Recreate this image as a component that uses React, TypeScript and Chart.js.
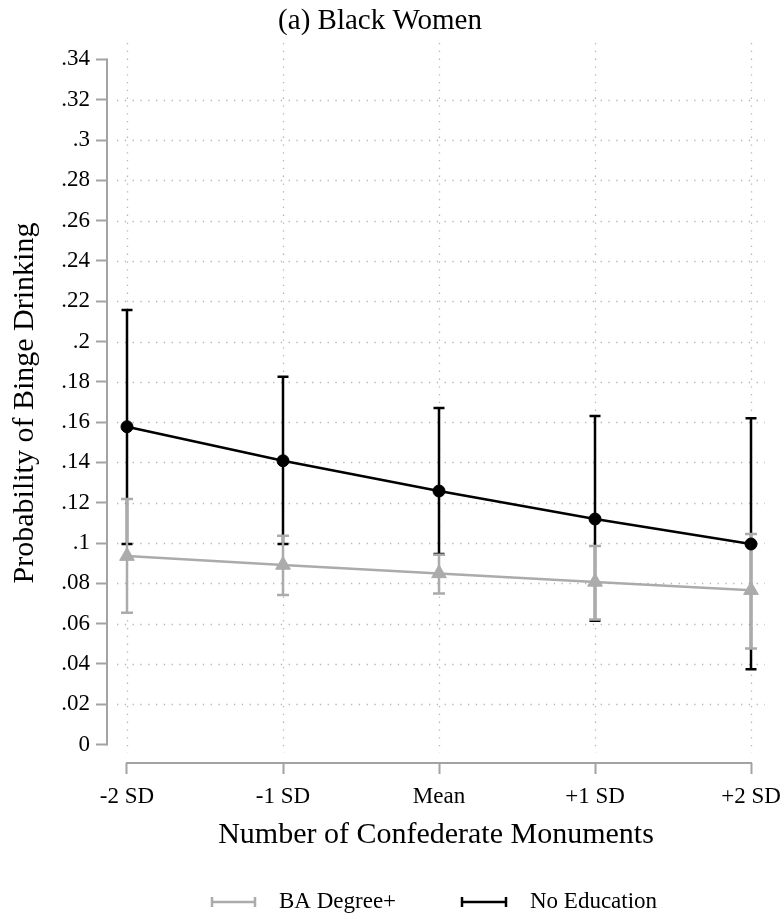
import React, { useEffect, useRef } from "react";
import { Chart, registerables } from "chart.js";

Chart.register(...registerables);

const categories = ["-2 SD", "-1 SD", "Mean", "+1 SD", "+2 SD"];
const xPositions = [-2, -1, 0, 1, 2];

const noEdMean = [0.1577, 0.1408, 0.1258, 0.1119, 0.0995];
const noEdLow = [0.0995, 0.0995, 0.0945, 0.0614, 0.0373];
const noEdHigh = [0.2156, 0.1825, 0.167, 0.163, 0.1619];

const baMean = [0.0935, 0.0891, 0.0849, 0.0807, 0.0766];
const baLow = [0.0654, 0.0742, 0.075, 0.062, 0.0477];
const baHigh = [0.1218, 0.1036, 0.0942, 0.0985, 0.1045];

const yTicks = [0, 0.02, 0.04, 0.06, 0.08, 0.1, 0.12, 0.14, 0.16, 0.18, 0.2, 0.22, 0.24, 0.26, 0.28, 0.3, 0.32, 0.34];
const yTickLabels = ["0", ".02", ".04", ".06", ".08", ".1", ".12", ".14", ".16", ".18", ".2", ".22", ".24", ".26", ".28", ".3", ".32", ".34"];

const FONT = "'Liberation Serif', 'Times New Roman', serif";
const BLACK = "#000000";
const GRAY = "#ababab";
const AXIS = "#a3a3a3";
const GRID = "#b5b5b5";

const customPlugin = {
  id: "custom",
  beforeDatasetsDraw(chart: any) {
    const { ctx, chartArea } = chart;
    const xs = chart.scales.x;
    const ys = chart.scales.y;
    ctx.save();
    // dotted grid
    ctx.strokeStyle = GRID;
    ctx.lineWidth = 1.3;
    ctx.setLineDash([1.3, 6.5]);
    yTicks.forEach((v) => {
      if (v === 0 || v === 0.34) return;
      const py = Math.round(ys.getPixelForValue(v)) + 0.5;
      ctx.beginPath();
      ctx.moveTo(chartArea.left + 10, py);
      ctx.lineTo(chartArea.right, py);
      ctx.stroke();
    });
    xPositions.forEach((v) => {
      const px = Math.round(xs.getPixelForValue(v)) + 0.5;
      ctx.beginPath();
      ctx.moveTo(px, chartArea.top);
      ctx.lineTo(px, chartArea.bottom - 10);
      ctx.stroke();
    });
    ctx.setLineDash([]);
    // axis lines
    ctx.strokeStyle = AXIS;
    ctx.lineWidth = 2;
    ctx.beginPath();
    ctx.moveTo(chartArea.left, ys.getPixelForValue(0) + 1);
    ctx.lineTo(chartArea.left, ys.getPixelForValue(0.34) - 1);
    ctx.stroke();
    ctx.beginPath();
    ctx.moveTo(xs.getPixelForValue(-2) - 1, chartArea.bottom);
    ctx.lineTo(xs.getPixelForValue(2) + 1, chartArea.bottom);
    ctx.stroke();

    // error bars
    const drawBars = (lo: number[], hi: number[], color: string, capHalf: number) => {
      ctx.strokeStyle = color;
      ctx.lineWidth = 2.5;
      xPositions.forEach((xv, i) => {
        const px = xs.getPixelForValue(xv);
        const p1 = ys.getPixelForValue(lo[i]);
        const p2 = ys.getPixelForValue(hi[i]);
        ctx.beginPath();
        ctx.moveTo(px, p1);
        ctx.lineTo(px, p2);
        ctx.moveTo(px - capHalf, p1);
        ctx.lineTo(px + capHalf, p1);
        ctx.moveTo(px - capHalf, p2);
        ctx.lineTo(px + capHalf, p2);
        ctx.stroke();
      });
    };
    drawBars(noEdLow, noEdHigh, BLACK, 5.5);
    drawBars(baLow, baHigh, GRAY, 6);
    ctx.restore();
  },
  afterDraw(chart: any) {
    const { ctx } = chart;
    ctx.save();
    ctx.fillStyle = "#000";
    ctx.textBaseline = "middle";
    ctx.textAlign = "center";
    ctx.font = `29px ${FONT}`;
    ctx.fillText("(a) Black Women", 380, 21);

    // legend
    const items = [
      { label: "BA Degree+", color: GRAY, x0: 212, x1: 255, tx: 279 },
      { label: "No Education", color: BLACK, x0: 462, x1: 506, tx: 530 },
    ];
    const ly = 902;
    items.forEach((it) => {
      ctx.strokeStyle = it.color;
      ctx.lineWidth = 2.5;
      ctx.beginPath();
      ctx.moveTo(it.x0, ly);
      ctx.lineTo(it.x1, ly);
      ctx.moveTo(it.x0, ly - 5);
      ctx.lineTo(it.x0, ly + 5);
      ctx.moveTo(it.x1, ly - 5);
      ctx.lineTo(it.x1, ly + 5);
      ctx.stroke();
      ctx.fillStyle = "#000";
      ctx.textAlign = "left";
      ctx.font = `23px ${FONT}`;
      ctx.fillText(it.label, it.tx, ly);
    });
    ctx.restore();
  },
};

export default function App() {
  const ref = useRef<HTMLCanvasElement | null>(null);
  useEffect(() => {
    document.body.style.margin = "0";
    const canvas = ref.current;
    if (!canvas) return;
    const chart = new Chart(canvas, {
      type: "line",
      data: {
        datasets: [
          {
            label: "No Education",
            data: xPositions.map((x, i) => ({ x, y: noEdMean[i] })),
            borderColor: BLACK,
            backgroundColor: BLACK,
            borderWidth: 2.5,
            pointStyle: "circle",
            pointRadius: 6,
            pointBorderWidth: 1,
            tension: 0,
          },
          {
            label: "BA Degree+",
            data: xPositions.map((x, i) => ({ x, y: baMean[i] })),
            borderColor: GRAY,
            backgroundColor: GRAY,
            borderWidth: 2.5,
            pointStyle: "triangle",
            pointRadius: 8.5,
            pointBorderWidth: 1,
            tension: 0,
          },
        ],
      },
      plugins: [customPlugin],
      options: {
        responsive: false,
        animation: false,
        events: [],
        layout: { padding: { left: 0, top: 43, right: 19, bottom: 66 } },
        plugins: {
          legend: { display: false },
          title: { display: false },
          tooltip: { enabled: false },
        },
        scales: {
          x: {
            type: "linear",
            min: -2.1282,
            max: 2.0897,
            afterBuildTicks: (scale: any) => {
              scale.ticks = xPositions.map((v) => ({ value: v }));
            },
            afterFit: (scale: any) => {
              scale.height = 90;
              scale.paddingLeft = 0;
              scale.paddingRight = 0;
            },
            border: { display: false },
            grid: {
              drawOnChartArea: false,
              drawTicks: true,
              tickLength: 11,
              tickColor: AXIS,
              tickWidth: 2,
            },
            ticks: {
              autoSkip: false,
              maxRotation: 0,
              padding: 9,
              color: "#000",
              font: { family: FONT, size: 23 },
              callback: (_v: any, i: number) => categories[i],
            },
            title: {
              display: true,
              text: "Number of Confederate Monuments",
              color: "#000",
              font: { family: FONT, size: 30 },
              padding: { top: 0, bottom: 0 },
            },
          },
          y: {
            type: "linear",
            min: -0.00918,
            max: 0.34814,
            afterBuildTicks: (scale: any) => {
              scale.ticks = yTicks.map((v) => ({ value: v }));
            },
            afterFit: (scale: any) => {
              scale.width = 107;
              scale.paddingTop = 0;
              scale.paddingBottom = 0;
            },
            border: { display: false },
            grid: {
              drawOnChartArea: false,
              drawTicks: true,
              tickLength: 11,
              tickColor: AXIS,
              tickWidth: 2,
            },
            ticks: {
              autoSkip: false,
              padding: 6,
              color: "#000",
              font: { family: FONT, size: 23 },
              callback: (_v: any, i: number) => yTickLabels[i],
            },
            title: {
              display: true,
              text: "Probability of Binge Drinking",
              color: "#000",
              font: { family: FONT, size: 30 },
              padding: { top: 7, bottom: 0 },
            },
          },
        },
      } as any,
    });
    return () => chart.destroy();
  }, []);
  return <canvas ref={ref} width={784} height={919} style={{ display: "block" }} />;
}
